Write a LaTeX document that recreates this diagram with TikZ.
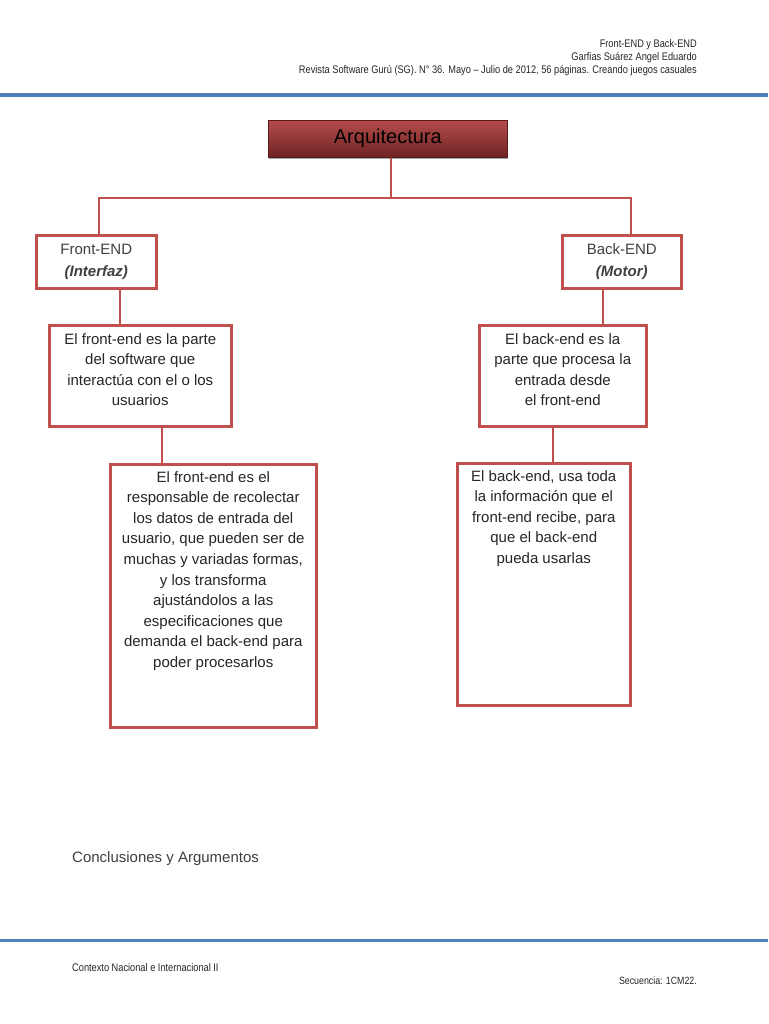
\documentclass[tikz,border=0pt]{standalone}
\usepackage{fontspec}
\setmainfont{Liberation Sans}
\newfontfamily\narrowfont[FakeStretch=0.84]{Liberation Sans}
\usetikzlibrary{shadows,calc}
\definecolor{boxred}{HTML}{C0504D}
\definecolor{lineblue}{HTML}{4F81BD}
\definecolor{arqtop}{HTML}{B54B4B}
\definecolor{arqbot}{HTML}{6E2323}
\definecolor{greytext}{HTML}{404040}
\begin{document}
\begin{tikzpicture}[x=1pt,y=-1pt,
  box/.style={draw=boxred, line width=2.5pt, fill=white, inner sep=0pt, anchor=north west},
  conn/.style={draw=boxred, line width=2pt},
  txt/.style={align=center, inner sep=0pt, anchor=north, font=\fontsize{15}{20.6}\selectfont, text=black!85},
  head/.style={inner sep=0pt, font=\narrowfont\fontsize{11}{13}\selectfont, text=black!85},
  arqbox/.style={draw=arqbot!80!black, line width=0.6pt, top color=arqtop, bottom color=arqbot, inner sep=0pt, anchor=north west,
     minimum width=239pt, minimum height=37pt, font=\fontsize{20}{24}\selectfont, text=black,
     drop shadow={shadow xshift=1pt, shadow yshift=-2pt, opacity=0.7}},
  titlebox/.style={box, align=center, font=\fontsize{15}{22}\selectfont, text=greytext}
]
\useasboundingbox (0,0) rectangle (768,1024);
\fill[white] (0,0) rectangle (768,1024);

% header
\node[head, anchor=base east] (h1) at (697,47.5) {Front-END y Back-END};
\node[head, anchor=base east] (h2) at (697,60.5) {Garfias Suárez Angel Eduardo};
\node[head, anchor=base east] (h3) at (697,73.5) {Revista Software Gurú (SG). N° 36. Mayo – Julio de 2012, 56 páginas. Creando juegos casuales};
\draw[lineblue, line width=4pt] (0,95) -- (768,95);

% boxes
\node[arqbox] (arq) at (268,120) {Arquitectura};
\node[titlebox, minimum width=120pt, minimum height=53pt] (fe) at (35,234) {Front-END\\\textbf{\textit{(Interfaz)}}};
\node[titlebox, minimum width=119pt, minimum height=53pt] (be) at (561,234) {Back-END\\\textbf{\textit{(Motor)}}};
\node[box, minimum width=182pt, minimum height=101pt] (d3) at (48,324) {};
\node[box, minimum width=167pt, minimum height=101pt] (d4) at (478,324) {};
\node[box, minimum width=206pt, minimum height=263pt] (d5) at (109,463) {};
\node[box, minimum width=173pt, minimum height=242pt] (d6) at (456,462) {};

\node[txt] (t3) at ($(d3.north)+(0,9)$) {El front-end es la parte\\del software que\\interactúa con el o los\\usuarios};
\node[txt] (t4) at ($(d4.north)+(0,9)$) {El back-end es la\\parte que procesa la\\entrada desde\\el front-end};
\node[txt] (t5) at ($(d5.north)+(0,8)$) {El front-end es el\\responsable de recolectar\\los datos de entrada del\\usuario, que pueden ser de\\muchas y variadas formas,\\y los transforma\\ajustándolos a las\\especificaciones que\\demanda el back-end para\\poder procesarlos};
\node[txt] (t6) at ($(d6.north)+(0,8)$) {El back-end, usa toda\\la información que el\\front-end recibe, para\\que el back-end\\pueda usarlas};

% connectors
\coordinate (j) at (391,198);
\draw[conn] (arq.south -| j) -- (j);
\draw[conn] ([xshift=3pt]fe.north) -- ([xshift=3pt]fe.north |- j) -- ([xshift=9.5pt]be.north |- j) -- ([xshift=9.5pt]be.north);
\draw[conn] ([xshift=24pt]fe.south) -- ([xshift=24pt]fe.south |- d3.north);
\draw[conn] ([xshift=-18.5pt]be.south) -- ([xshift=-18.5pt]be.south |- d4.north);
\draw[conn] ([xshift=22pt]d3.south) -- ([xshift=22pt]d3.south |- d5.north);
\draw[conn] ([xshift=-10pt]d4.south) -- ([xshift=-10pt]d4.south |- d6.north);

% bottom texts
\node[inner sep=0pt, anchor=base west, font=\fontsize{15}{18}\selectfont, text=greytext] (concl) at (72,862) {Conclusiones y Argumentos};
\draw[lineblue, line width=3pt] (0,940) -- (768,940);
\node[head, anchor=base west] (f1) at (72,971.5) {Contexto Nacional e Internacional II};
\node[head, anchor=base east, font=\narrowfont\fontsize{10.5}{13}\selectfont] (f2) at (697,984.5) {Secuencia: 1CM22.};
\end{tikzpicture}
\end{document}
